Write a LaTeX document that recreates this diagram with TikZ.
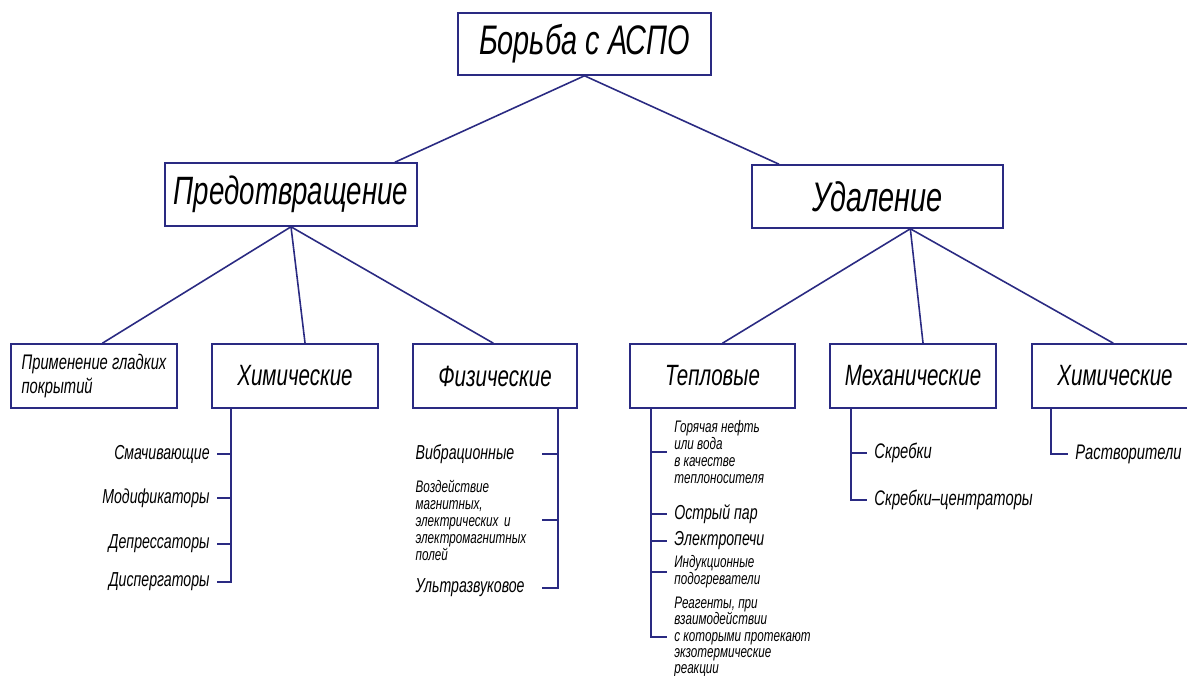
\documentclass[tikz,border=0pt]{standalone}
\usepackage{fontspec}
\newfontfamily\gost{Liberation Sans}[FakeStretch=0.7]
\newcommand\gf[2]{\gost\itshape\fontsize{#1}{#2}\selectfont}
\usetikzlibrary{calc,positioning}
\definecolor{lineblue}{HTML}{2A2A82}
\tikzset{
  link/.style={draw=lineblue,line width=0.9pt},
  topbox/.style={draw=lineblue,line width=0.9pt,minimum width=5.04cm,minimum height=1.26cm,inner sep=0pt,font=\gf{23.5pt}{26pt}},
  subbox/.style={draw=lineblue,line width=0.9pt,minimum width=3.32cm,minimum height=1.28cm,inner sep=0pt,font=\gf{16.7pt}{19pt}},
  item/.style={inner xsep=4pt,inner ysep=1pt,font=\gf{11.5pt}{13pt}},
  note/.style={inner xsep=4pt,inner ysep=1pt,align=left,font=\gf{9.5pt}{9.7pt}}
}
\begin{document}
\begin{tikzpicture}[x=0.02cm,y=-0.02cm]
\useasboundingbox (0,0) rectangle (1187,676);
\fill[white] (0,0) rectangle (1187,676);
\clip (0,0) rectangle (1187,676);

\node[topbox,minimum width=5.06cm,minimum height=1.24cm] (root) at (584.5,44) {Борьба с АСПО};
\node[topbox,font=\gf{22.5pt}{26pt}] (prev) at (291,194.5) {Предотвращение};
\node[topbox,minimum width=5.02cm] (rem) at (877.5,196.5) {Удаление};

\node[subbox,align=left,font=\gf{12pt}{14pt}] (smooth) at (94,376) {Применение гладких\\покрытий};
\node[subbox] (chemL) at (295,376) {Химические};
\node[subbox,minimum width=3.28cm] (phys) at (495,376) {Физические};
\node[subbox,minimum width=3.3cm] (heat) at (712.5,376) {Тепловые};
\node[subbox] (mech) at (913,376) {Механические};
\node[subbox] (chemR) at (1115,376) {Химические};

\draw[link] (root.south) -- ($(prev.north west)!0.91!(prev.north east)$);
\draw[link] (root.south) -- ($(rem.north west)!0.11!(rem.north east)$);

\draw[link] (prev.south) -- ($(smooth.north west)!0.55!(smooth.north east)$);
\draw[link] (prev.south) -- ($(chemL.north west)!0.56!(chemL.north east)$);
\draw[link] (prev.south) -- ($(phys.north west)!0.49!(phys.north east)$);

\draw[link] ($(rem.south west)!0.63!(rem.south east)$) -- ($(heat.north west)!0.56!(heat.north east)$);
\draw[link] ($(rem.south west)!0.63!(rem.south east)$) -- ($(mech.north west)!0.56!(mech.north east)$);
\draw[link] ($(rem.south west)!0.63!(rem.south east)$) -- ($(chemR.north west)!0.49!(chemR.north east)$);

\coordinate (cs) at ($(chemL.south west)+(20,0)$);
\node[item,anchor=east] (wet) at (217,454) {Смачивающие};
\node[item,anchor=east] (mod) at (217,498) {Модификаторы};
\node[item,anchor=east] (dep) at (217,544) {Депрессаторы};
\node[item,anchor=east] (disp) at (217,582) {Диспергаторы};
\draw[link] (cs) -- (cs |- disp.east) -- (disp.east);
\foreach \n in {wet,mod,dep}
  \draw[link] (cs |- \n.east) -- (\n.east);

\coordinate (ps) at ($(phys.south east)+(-20,0)$);
\node[item,anchor=east,text width=2.38cm,align=left] (vib) at (542,454) {Вибрационные};
\node[note,anchor=east,text width=2.38cm] (field) at (542,520) {Воздействие\\магнитных,\\электрических и\\электромагнитных\\полей};
\node[item,anchor=east,text width=2.38cm,align=left] (ultra) at (542,588) {Ультразвуковое};
\draw[link] (ps) -- (ps |- ultra.east) -- (ultra.east);
\foreach \n in {vib,field}
  \draw[link] (ps |- \n.east) -- (\n.east);

\coordinate (hs) at ($(heat.south west)+(22,0)$);
\node[note,anchor=west] (hot) at (667,452) {Горячая нефть\\или вода\\в качестве\\теплоносителя};
\node[item,anchor=west] (steam) at (667,514) {Острый пар};
\node[item,anchor=west] (oven) at (667,541) {Электропечи};
\node[note,anchor=west] (induct) at (667,572) {Индукционные\\подогреватели};
\node[note,anchor=west,font=\gf{9.5pt}{9.2pt}] (reag) at (667,637) {Реагенты, при\\взаимодействии\\с которыми протекают\\экзотермические\\реакции};
\draw[link] (hs) -- (hs |- reag.west) -- (reag.west);
\foreach \n in {hot,steam,oven,induct}
  \draw[link] (hs |- \n.west) -- (\n.west);

\coordinate (ms) at ($(mech.south west)+(22,0)$);
\node[item,anchor=west,font=\gf{12pt}{14pt}] (scr) at (867,453) {Скребки};
\node[item,anchor=west,font=\gf{12pt}{14pt}] (scrc) at (867,500) {Скребки–центраторы};
\draw[link] (ms) -- (ms |- scrc.west) -- (scrc.west);
\draw[link] (ms |- scr.west) -- (scr.west);

\coordinate (rs) at ($(chemR.south west)+(20,0)$);
\node[item,anchor=west,font=\gf{12pt}{14pt}] (solv) at (1068,454) {Растворители};
\draw[link] (rs) -- (rs |- solv.west) -- (solv.west);
\end{tikzpicture}
\end{document}
